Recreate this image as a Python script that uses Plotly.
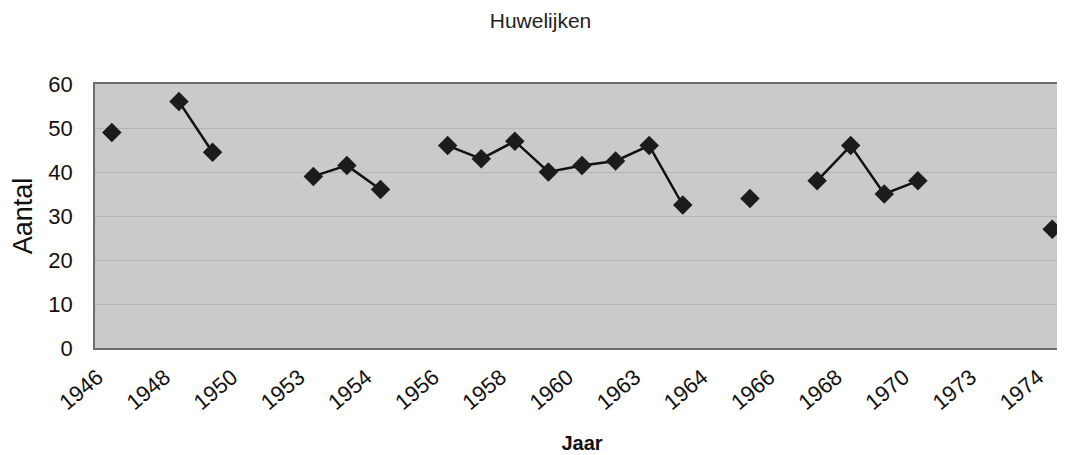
import plotly.graph_objects as go

# 29 category slots on the x axis; only every other slot carries a label
slot_labels = ["1946", "", "1948", "", "1950", "", "1953", "", "1954", "", "1956", "",
               "1958", "", "1960", "", "1963", "", "1964", "", "1966", "", "1968", "",
               "1970", "", "1973", "", "1974"]

# number of marriages per slot (None = no value, line breaks there)
aantal = [49, None, 56, 44.5, None, None, 39, 41.5, 36, None, 46, 43, 47, 40, 41.5,
          42.5, 46, 32.5, None, 34, None, 38, 46, 35, 38, None, None, None, 27]

x_idx = list(range(len(slot_labels)))
# labels sit a little left of their slot, like the original spreadsheet chart
tick_idx = [i - 0.42 for i, t in enumerate(slot_labels) if t]
tick_txt = [t for t in slot_labels if t]

fig = go.Figure()
fig.add_trace(go.Scatter(
    x=x_idx, y=aantal, mode="lines+markers",
    connectgaps=False,
    line=dict(color="#111111", width=2.5),
    marker=dict(symbol="diamond", size=15, color="#1c1c1c"),
    showlegend=False,
))

fig.update_layout(
    width=1065, height=455,
    margin=dict(l=87, r=2, t=76, b=115),
    paper_bgcolor="white",
    plot_bgcolor="#cacaca",
    font=dict(family="Liberation Sans, Arial, sans-serif", color="#111111"),
    title=dict(text="Huwelijken", x=0.5, xanchor="center", y=0.972, yanchor="middle",
               font=dict(size=21, color="#222222")),
)
fig.update_xaxes(
    range=[-0.5, len(slot_labels) - 0.5],
    tickmode="array", tickvals=tick_idx, ticktext=tick_txt,
    tickangle=-40, tickfont=dict(size=22), ticklabelstandoff=6,
    showgrid=False, zeroline=False,
    showline=True, linecolor="#6e6e6e", linewidth=1.5, mirror=True,
    title=dict(text="<b>Jaar</b>", font=dict(size=20), standoff=22),
)
fig.update_yaxes(
    range=[0, 60], dtick=10,
    tickfont=dict(size=22), ticklabelstandoff=16,
    showgrid=True, gridcolor="#b4b4b4", gridwidth=1, zeroline=False,
    showline=True, linecolor="#6e6e6e", linewidth=1.5, mirror=True,
    title=dict(text="Aantal", font=dict(size=27), standoff=14),
)

fig.write_html("out.html")
